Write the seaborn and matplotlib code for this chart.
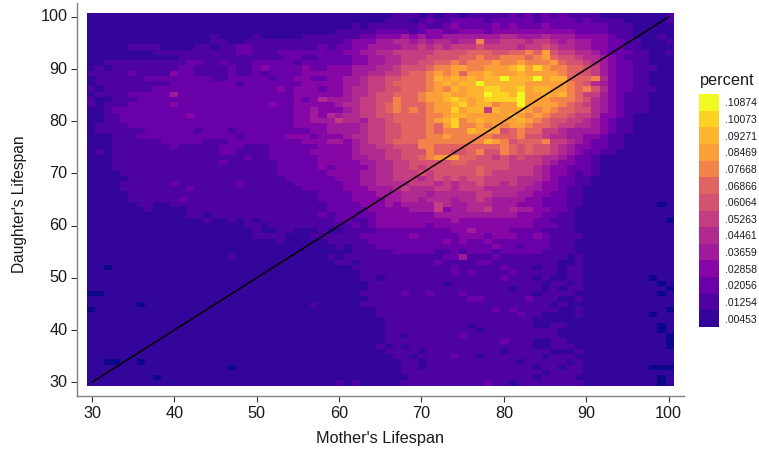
import numpy as np
import matplotlib.pyplot as plt
from matplotlib.colors import ListedColormap
import seaborn as sns

# levels per cell, rows run from daughter age 100 down to 30, columns mother age 30 to 100
grid_rows = [
    "1111111111 1111111111 1111111111 1111111222 1212212222 2323232322 2211111111 2",
    "1111111111 1111111111 1111111111 1111112221 2322333323 3333233332 3222211111 2",
    "1111111111 1111111111 1111111111 1121222222 3223433334 3433343333 3332221111 1",
    "1111111111 1111111111 1111111111 2222233332 3443344434 4444444443 3332221111 1",
    "1111111111 1111121111 2111112222 2223344454 5445555555 6655565554 4443221112 1",
    "1111111111 1111122112 2222222222 2344455665 6566566a66 7776776565 5443322111 2",
    "1111122221 1112212233 2222222232 3344555566 7676777877 7767787665 5443322111 1",
    "1111111122 2222222233 2223333333 3445566777 7788889998 899a9b8776 6543332211 2",
    "1111111111 1222222222 2222332233 3344556677 7888899a99 aaa9ab9887 6654322211 1",
    "1122222222 2233223222 3333323333 3344556677 8899a9aaab aabaaab988 7654332211 1",
    "1212222222 2332222322 3433334334 4455566788 89aabbaabb bcdbdbaa99 8754332221 1",
    "2222232222 4332222322 3233334444 4455667789 9abab9bbcb bbcbbbba98 8754332211 1",
    "1222222333 3333322333 3323344334 4556778899 9acbcbcbcc ecccebcc99 9a64332211 1",
    "1222222222 3333333323 3333334444 4556778999 9abcbccecc cccbbbbba9 8654332211 1",
    "2122222233 3333333333 3334344434 4566778899 9abacbccdd ccdbccbba9 a864332221 1",
    "1222233333 5333333333 3333344444 4566788999 abbcbbcced dcebbcbca9 7754322211 1",
    "2112223333 3333333333 3333343465 5567788a99 abbcdcbcdd ddebbbaaa9 8654322211 1",
    "2122233333 4333333333 3343344444 5667789a99 9abbcdbcca bbebbbba98 7654322211 1",
    "1123333333 3333333333 3333344544 4567789a9a 9abbdbcc7c bbcbaba998 8654322211 1",
    "1122333333 3343333333 3333344546 5667788999 9aabccbbbb bcbaba9987 7644321111 1",
    "1122333333 3333333333 3333344555 7665778999 9abcdabcbb bbcba98877 6543221111 1",
    "1222233333 3333333333 3333344445 5556778899 9a9bdaabab abba998776 6543221111 1",
    "1222222333 3332333233 3333333445 5556778899 9a9aaacbbb 89a9977655 5543221111 1",
    "1112223333 3333333323 3333444344 4566778899 9aabaaaaa9 99a8876655 4432211111 1",
    "1112222223 3333222333 3333334445 5456778999 aaaaaaaacb a8999a7765 4332211111 1",
    "1112222222 3222223332 2233333344 4456677888 aa99999999 a989887654 4332211111 1",
    "1212222222 2222223322 2233333444 4456667788 8a99889a88 a989887654 3322111111 1",
    "1112222222 2222222223 2233333344 4455667788 9abbb99887 8787766543 3211111111 1",
    "1112222222 2222223222 2223333344 4445566778 8888998888 8777765443 3211111111 1",
    "1112222222 2222222222 2223333343 4444566778 7888888988 8777654433 3211111111 1",
    "1111222222 2222222222 2223333334 4445566777 8788888987 7777654432 3211111111 1",
    "1111122222 2222222222 2222333333 4445566777 6787878877 7766654332 2111111111 1",
    "1111222222 3222222232 2222233333 3445566667 7767677877 6766544332 2111111111 1",
    "1111222222 2232222222 2222223333 3444555676 6677677766 6665544322 1111111111 1",
    "1111122222 2222222222 2222222233 3344455566 6566666776 6655443322 1111111111 1",
    "1111122222 2322222222 2222222233 3344445566 5666566765 5554433322 1111111111 1",
    "1111112211 2222222222 2222222223 3334445455 5576556665 5544433322 1111111110 1",
    "1111111211 1122222222 2222222223 3333444445 5574556675 5655443321 1111111111 1",
    "1111111111 1122122222 2222222232 3333344444 4455555555 5544433221 1111111111 1",
    "1111111111 1111211212 1222222222 3322344444 4444544444 4444332221 1111111111 0",
    "1111111111 1111111112 2122222222 2232344444 4344444444 4444333221 1111111111 1",
    "1111111111 1111111111 2112211121 1222233333 3333445444 4333322221 1111111111 1",
    "1111111111 1111111111 2222111222 2223333334 3333344434 4433432222 1111111111 1",
    "1111111111 1111111111 1112111112 2222333333 3334343343 3333332221 1111111111 1",
    "1111111111 1111111111 1111111111 2122233333 3333333334 3323332221 1111111111 1",
    "1111111111 1111111111 1111111111 1122222333 3322323332 3333322221 1111111111 1",
    "1111111111 1111111211 1111111112 1222222222 2223352223 2222222212 1111111111 1",
    "1111111111 1111111111 1111111111 2212222222 2232222332 2222222112 1111111111 1",
    "1101111111 1111111111 1111111111 1122222222 2222322222 3222122122 1111111111 1",
    "1111111111 1111111111 1111111111 1112222222 2222323222 2322222122 1111111111 1",
    "1111111111 1111111111 1111111111 1112212222 2222222222 3222121122 1111111101 1",
    "1111111111 1111111111 1111111111 1111222222 2221222222 2222212212 1111111110 1",
    "1111111111 1111111111 1111111111 1111222222 2222222222 2122212122 1111111111 0",
    "0011111111 1111111111 1111111111 1112222232 2322232222 2222122221 1111111110 1",
    "1111111111 1111111111 1111111111 1111222222 2222223322 2223222112 1111111111 1",
    "1111110111 1111111111 1111111211 1112222222 2222222222 2222221211 1111111111 1",
    "0111111111 1111111111 1111111111 1111122222 2222222223 2322222112 1111111111 0",
    "1111111111 1111111111 1111111111 1111122222 2222222222 2232211112 1111111101 1",
    "1111111111 1111111111 1111111111 1111112222 2222222222 2222111111 1111111111 1",
    "1111111111 1111111111 1111111111 1111112222 2222221222 2222112211 1111111110 1",
    "1111111111 1111111111 1111111111 1111112222 2222222122 2222222111 1111111110 1",
    "1111111111 1111111111 1111111111 1111112212 2222232222 2222222111 1111111111 0",
    "1111111111 1111111111 1111111111 1111112222 2222222222 3222112211 1111111111 0",
    "1111111111 1111111111 1111111111 1111121212 2222222222 2222112221 1111111111 0",
    "1111111111 1111111111 1111111111 1111112222 1222222222 1222221112 1111111111 1",
    "1111111111 1111111111 1111111111 1111111221 2222322122 2222212221 1111111111 1",
    "1100110111 1111111111 1111111111 1111111122 1222222222 2212222212 1111111111 1",
    "1111111111 1111111011 1111111111 1111111122 1222222222 2222122122 1111111100 0",
    "1111111111 1111111111 1111111111 1111111122 2222222222 2222212222 1111111111 1",
    "1111111101 1111111111 1111111111 1111111112 2222222222 2222122221 1111111110 1",
    "1111111111 1111111111 1111111111 2121111122 2222222232 2122222222 1111111110 1",
]

legend_labels = [".10874", ".10073", ".09271", ".08469", ".07668", ".06866", ".06064",
                 ".05263", ".04461", ".03659", ".02858", ".02056", ".01254", ".00453"]
level_colors = ["#0d0887", "#33059a", "#4f02a2", "#6a00a8", "#8606a6", "#a01a9c", "#b12a90",
                "#c33d80", "#d35171", "#e16462", "#f2844b", "#fb9f3a", "#fdb42f", "#fcd225", "#f0f921"]
mother_ticks = [30, 40, 50, 60, 70, 80, 90, 100]
daughter_ticks = [30, 40, 50, 60, 70, 80, 90, 100]
diagonal = [30, 100]

grid = np.array([[int(c, 16) for c in r.replace(" ", "")] for r in grid_rows])
W, H = 759, 450

sns.set_theme(style="white")
plt.rcParams["font.family"] = ["Liberation Sans", "DejaVu Sans"]
cmap = ListedColormap(level_colors)

fig = plt.figure(figsize=(W / 100, H / 100), dpi=100)
ax = fig.add_axes([76.5 / W, 1 - 395.5 / H, (684 - 76.5) / W, (395.5 - 3) / H])
sns.heatmap(grid, ax=ax, cmap=cmap, vmin=-0.5, vmax=14.5, cbar=False, rasterized=True)


def xpos(v):
    return 0.6 + (np.asarray(v) - 30) * 8.24 / 8.27


def ypos(v):
    return (382.3 - (np.asarray(v) - 30) * 5.22 - 13) / 5.25


# margin around the cells, the axis lines sit away from the heat map
ax.set_xlim(-10.5 / 8.27, 71 + 10 / 8.27)
ax.set_ylim(71 + 9.8 / 5.25, -10 / 5.25)
ax.plot(xpos(diagonal), ypos(diagonal), color="black", lw=1.1)

ax.set_xticks(xpos(mother_ticks))
ax.set_xticklabels(mother_ticks, rotation=0, fontsize=11.7, color="#1a1a1a")
ax.set_yticks(ypos(daughter_ticks))
ax.set_yticklabels(daughter_ticks, rotation=0, fontsize=11.7, color="#1a1a1a")
ax.tick_params(axis="both", length=4.5, width=0.8, color="#333333", left=True, bottom=True, pad=3)
ax.tick_params(axis="y", pad=2)
ax.set_xlabel("Mother's Lifespan", fontsize=11.7, color="#1a1a1a", labelpad=7)
ax.set_ylabel("Daughter's Lifespan", fontsize=11.2, color="#1a1a1a", labelpad=10, y=0.488)
for side in ["top", "right"]:
    ax.spines[side].set_visible(False)
for side in ["left", "bottom"]:
    ax.spines[side].set_visible(True)
    ax.spines[side].set_color("#808080")
    ax.spines[side].set_linewidth(1.0)

# legend swatches
lax = fig.add_axes([699 / W, 1 - 327 / H, 20 / W, 233 / H])
swatches = np.arange(14, 0, -1).reshape(-1, 1)
sns.heatmap(swatches, ax=lax, cmap=cmap, vmin=-0.5, vmax=14.5, cbar=False, xticklabels=False)
lax.yaxis.tick_right()
lax.set_yticks(np.arange(14) + 0.5)
lax.set_yticklabels(legend_labels, rotation=0, fontsize=7.5, color="#1a1a1a")
lax.tick_params(axis="y", length=0, pad=4)
fig.text(727 / W, 1 - 80 / H, "percent", ha="center", va="center", fontsize=11.7, color="#1a1a1a")

fig.savefig("out.png", dpi=100)
